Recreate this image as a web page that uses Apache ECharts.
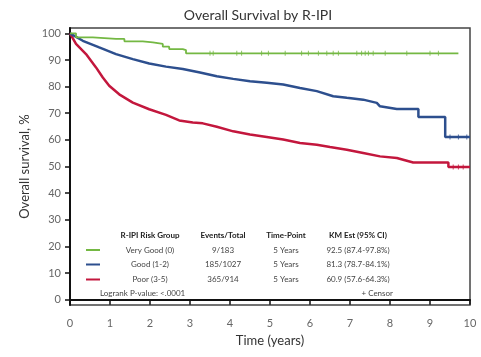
<!DOCTYPE html>
<html>
<head>
<meta charset="utf-8">
<script src="https://cdn.jsdelivr.net/npm/echarts@6/dist/echarts.min.js"></script>
<style>
  html, body { margin: 0; padding: 0; background: #fff; }
  #show_picture { width: 481px; height: 357px; }
</style>
</head>
<body>
<div id="show_picture"></div>
<script>
// survival curves, [years, survival %]
const veryGood = [[0, 100], [0.15, 98.5], [0.57, 97.9], [1.15, 97.9], [1.36, 97.0], [1.82, 96.6],
  [2.07, 96.0], [2.32, 95.0], [2.48, 94.1], [2.82, 93.7], [2.9, 92.5], [9.71, 92.5]];
const good = [[0, 100], [0.32, 97.2], [0.73, 94.7], [1.15, 92.2], [1.57, 90.3], [1.98, 88.7],
  [2.4, 87.5], [2.82, 86.6], [3.25, 85.3], [3.67, 83.9], [4.08, 82.9], [4.5, 82.0], [4.92, 81.4],
  [5.33, 80.8], [5.75, 79.5], [6.17, 78.3], [6.58, 76.4], [6.92, 75.8], [7.33, 75.1], [7.67, 73.9],
  [7.75, 72.6], [8.17, 71.6], [8.71, 71.6], [8.71, 68.6], [9.38, 68.6], [9.38, 61.1], [10, 61.1]];
const poor = [[0, 100], [0.15, 96.0], [0.4, 92.2], [0.65, 87.2], [0.82, 83.4], [0.98, 80.3],
  [1.23, 77.1], [1.57, 74.0], [1.98, 71.5], [2.4, 69.4], [2.73, 67.3], [3.07, 66.5], [3.32, 66.2],
  [3.67, 64.9], [4.08, 63.2], [4.5, 62.0], [4.92, 61.1], [5.33, 60.1], [5.75, 58.8], [6.17, 58.2],
  [6.5, 57.3], [6.92, 56.3], [7.33, 55.1], [7.75, 53.8], [8.17, 53.2], [8.58, 51.5], [9.46, 51.5],
  [9.46, 49.8], [10, 49.8]];

// censor marks
const censorVeryGood = [[3.5, 92.5], [3.58, 92.5], [4.17, 92.5], [4.29, 92.5], [4.79, 92.5], [4.96, 92.5],
  [5.38, 92.5], [5.79, 92.5], [5.96, 92.5], [6.21, 92.5], [6.42, 92.5], [6.58, 92.5], [6.71, 92.5],
  [7.17, 92.5], [7.29, 92.5], [7.38, 92.5], [7.46, 92.5], [7.58, 92.5], [7.88, 92.5], [8.42, 92.5],
  [9.0, 92.5], [9.21, 92.5]];
const censorGood = [[9.5, 61.1], [9.71, 61.1], [9.92, 61.1]];
const censorPoor = [[9.58, 49.8], [9.71, 49.8], [9.83, 49.8]];

const yTicks = [0, 10, 20, 30, 40, 50, 60, 70, 80, 90, 100];

// table in the plot
const tableHeaders = ['R-IPI Risk Group', 'Events/Total', 'Time-Point', 'KM Est (95% CI)'];
const groupNames = ['Very Good (0)', 'Good (1-2)', 'Poor (3-5)'];
const eventsTotal = ['9/183', '185/1027', '365/914'];
const timePoints = ['5 Years', '5 Years', '5 Years'];
const kmEst = ['92.5 (87.4-97.8%)', '81.3 (78.7-84.1%)', '60.9 (57.6-64.3%)'];

const colors = ['#74b843', '#2d4f8e', '#c3173d'];
const font = 'Lato, "Open Sans", sans-serif';

let myChart = echarts.init(document.getElementById('show_picture'));

let colX = [150, 223, 286, 358];
let rowY = [250, 264.5, 279.5];
let graphic = [];
tableHeaders.forEach((h, i) => {
    graphic.push({ type: 'text', x: colX[i], y: 235,
        style: { text: h, fontSize: 8, fontWeight: 'bold', fontFamily: font, fill: '#222', align: 'center', verticalAlign: 'middle' } });
});
groupNames.forEach((g, r) => {
    let cells = [g, eventsTotal[r], timePoints[r], kmEst[r]];
    cells.forEach((c, i) => {
        graphic.push({ type: 'text', x: colX[i], y: rowY[r],
            style: { text: c, fontSize: 8, fontFamily: font, fill: '#444', align: 'center', verticalAlign: 'middle' } });
    });
    graphic.push({ type: 'line', shape: { x1: 86, y1: rowY[r], x2: 100, y2: rowY[r] },
        style: { stroke: colors[r], lineWidth: 2 } });
});
graphic.push({ type: 'text', x: 100, y: 293.5,
    style: { text: 'Logrank P-value: <.0001', fontSize: 8, fontFamily: font, fill: '#444', align: 'left', verticalAlign: 'middle' } });
graphic.push({ type: 'text', x: 393, y: 293.5,
    style: { text: '+ Censor', fontSize: 8, fontFamily: font, fill: '#444', align: 'right', verticalAlign: 'middle' } });

let curve = (data, i, w, step) => ({
    type: 'line', data: data, showSymbol: false, symbol: 'none', step: step,
    lineStyle: { color: colors[i], width: w }, z: 6 - i
});
let censor = (data, i) => ({
    type: 'scatter', data: data, symbol: 'rect', symbolSize: [1, 5],
    itemStyle: { color: colors[i] }, z: 8
});

let option = {
    animation: false,
    title: {
        text: 'Overall Survival by R-IPI',
        left: 253, top: 3, textAlign: 'center',
        textStyle: { fontFamily: font, fontSize: 14, fontWeight: 'normal', color: '#333' }
    },
    grid: {
        left: 70, right: 11, top: 28, bottom: 52,
        show: true, borderColor: '#444', borderWidth: 1.5
    },
    xAxis: {
        type: 'value', min: 0, max: 10, interval: 1,
        name: 'Time (years)', nameLocation: 'middle', nameGap: 29,
        nameTextStyle: { fontFamily: font, fontSize: 13, color: '#333' },
        axisLine: { lineStyle: { color: '#111', width: 2 } },
        axisTick: { length: 5, lineStyle: { color: '#111', width: 1.5 } },
        axisLabel: { fontFamily: font, fontSize: 11, color: '#666', margin: 13 },
        splitLine: { show: false }
    },
    yAxis: {
        type: 'value', min: -2, max: 102,
        name: 'Overall survival, %', nameLocation: 'middle', nameGap: 38,
        nameTextStyle: { fontFamily: font, fontSize: 13, color: '#333' },
        axisLine: { show: true, lineStyle: { color: '#111', width: 2 } },
        axisTick: { show: true, length: 5, customValues: yTicks, lineStyle: { color: '#111', width: 1.5 } },
        axisLabel: { fontFamily: font, fontSize: 11, color: '#666', margin: 9, customValues: yTicks },
        splitLine: { show: false }
    },
    graphic: graphic,
    series: [
        curve(poor, 2, 2.5, false),
        curve(good, 1, 2.5, false),
        curve(veryGood, 0, 1.8, 'end'),
        censor(censorVeryGood, 0),
        censor(censorGood, 1),
        censor(censorPoor, 2)
    ]
};

option && myChart.setOption(option);
</script>
</body>
</html>
